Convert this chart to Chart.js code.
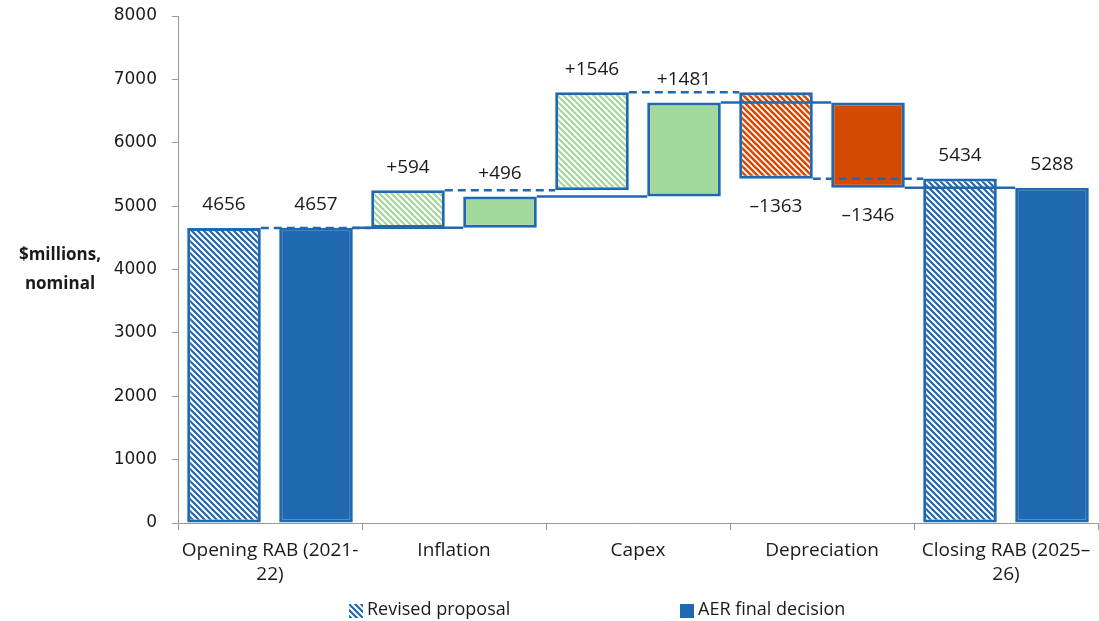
<!DOCTYPE html>
<html>
<head>
<meta charset="utf-8">
<script src="https://cdn.jsdelivr.net/npm/chart.js@4.4.1/dist/chart.umd.min.js"></script>
<style>
  html, body { margin: 0; padding: 0; background: #fff; }
  canvas { display: block; }
</style>
</head>
<body>
<canvas id="rabChart" width="1099" height="621"></canvas>
<script>
const categories = [['Opening RAB (2021-', '22)'], 'Inflation', 'Capex', 'Depreciation', ['Closing RAB (2025–', '26)']]
// opening value, the three movements, closing value
const revisedSteps = [4656, 594, 1546, -1363, 5434]
const aerSteps = [4657, 496, 1481, -1346, 5288]
const yTicks = [0, 8000, 1000]

const BLUE = '#2068B0'
const GREEN = '#A2D89B'
const RED = '#D34A02'

// turn steps into floating [from, to] ranges
function toRanges (steps) {
  const out = []
  let run = 0
  steps.forEach((v, i) => {
    if (i === 0 || i === steps.length - 1) {
      out.push([0, v])
      run = v
    } else {
      out.push([run, run + v])
      run += v
    }
  })
  return out
}
const revisedRanges = toRanges(revisedSteps)
const aerRanges = toRanges(aerSteps)

function hatch (fg, bg, size, lw) {
  const c = document.createElement('canvas')
  c.width = c.height = size
  const x = c.getContext('2d')
  x.fillStyle = bg
  x.fillRect(0, 0, size, size)
  x.strokeStyle = fg
  x.lineWidth = lw
  x.beginPath()
  for (let k = -1; k <= 1; k++) {
    x.moveTo(k * size - 1, -1)
    x.lineTo(k * size + size + 1, size + 1)
  }
  x.stroke()
  return x.createPattern(c, 'repeat')
}

const ctx = document.getElementById('rabChart').getContext('2d')
const blueHatch = hatch('#ffffff', BLUE, 6, 2)
const greenHatch = hatch(GREEN, '#ffffff', 6, 2.2)
const redHatch = hatch(RED, '#ffffff', 6, 2.6)

const fillFor = (i, hatched) => {
  if (i === 0 || i === 4) return hatched ? blueHatch : BLUE
  if (i === 3) return hatched ? redHatch : RED
  return hatched ? greenHatch : GREEN
}

function fmt (steps, i) {
  const v = steps[i]
  if (i === 0 || i === steps.length - 1) return String(v)
  return v < 0 ? '\u2013' + Math.abs(v) : '+' + v
}

const connectors = {
  id: 'connectors',
  afterDatasetsDraw (chart) {
    const c = chart.ctx
    const y = chart.scales.y
    const sets = [[0, revisedRanges, [8, 5]], [1, aerRanges, []]]
    c.save()
    c.strokeStyle = BLUE
    c.lineWidth = 2.5
    sets.forEach(([d, ranges, dash]) => {
      const bars = chart.getDatasetMeta(d).data
      c.setLineDash(dash)
      for (let i = 0; i < bars.length - 1; i++) {
        const a = bars[i]
        const b = bars[i + 1]
        const py = y.getPixelForValue(ranges[i][1])
        c.beginPath()
        c.moveTo(a.x + a.width / 2, py)
        c.lineTo(b.x - b.width / 2, py)
        c.stroke()
      }
    })
    c.restore()
  }
}

const valueLabels = {
  id: 'valueLabels',
  afterDatasetsDraw (chart) {
    const c = chart.ctx
    const y = chart.scales.y
    c.save()
    c.font = '19px "Open Sans"'
    c.fillStyle = '#1a1a1a'
    c.textAlign = 'center'
    c.textBaseline = 'middle'
    ;[[0, revisedSteps, revisedRanges], [1, aerSteps, aerRanges]].forEach(([d, steps, ranges]) => {
      chart.getDatasetMeta(d).data.forEach((bar, i) => {
        const lo = Math.min(...ranges[i])
        const hi = Math.max(...ranges[i])
        const py = steps[i] < 0 ? y.getPixelForValue(lo) + 28 : y.getPixelForValue(hi) - 23
        c.fillText(fmt(steps, i), bar.x, py)
      })
    })
    c.restore()
  }
}

const sideTitle = {
  id: 'sideTitle',
  afterDraw (chart) {
    const c = chart.ctx
    c.save()
    c.font = 'bold 17px "Open Sans"'
    c.fillStyle = '#1a1a1a'
    c.textAlign = 'center'
    c.textBaseline = 'middle'
    c.fillText('$millions,', 60, 255)
    c.fillText('nominal', 60, 284)
    c.restore()
  }
}

const bottomLegend = {
  id: 'bottomLegend',
  afterDraw (chart) {
    const c = chart.ctx
    const items = [['Revised proposal', blueHatch, 349], ['AER final decision', BLUE, 680]]
    c.save()
    c.font = '18px "Open Sans"'
    c.textBaseline = 'middle'
    items.forEach(([text, fill, x]) => {
      c.fillStyle = fill
      c.fillRect(x, 604, 14, 14)
      c.fillStyle = '#1a1a1a'
      c.fillText(text, x + 18, 610)
    })
    c.restore()
  }
}

const tickFont = { family: 'DejaVu Sans', size: 17 }

new Chart(ctx, {
  type: 'bar',
  data: {
    labels: categories,
    datasets: [
      {
        label: 'Revised proposal',
        data: revisedRanges,
        backgroundColor: revisedRanges.map((r, i) => fillFor(i, true)),
        borderColor: BLUE,
        borderWidth: 3,
        borderSkipped: false
      },
      {
        label: 'AER final decision',
        data: aerRanges,
        backgroundColor: aerRanges.map((r, i) => fillFor(i, false)),
        borderColor: BLUE,
        borderWidth: 3,
        borderSkipped: false
      }
    ]
  },
  options: {
    responsive: false,
    animation: false,
    devicePixelRatio: 1,
    categoryPercentage: 1.0,
    barPercentage: 0.8,
    layout: { padding: { top: 16, right: 1, left: 0, bottom: 0 } },
    plugins: { legend: { display: false }, tooltip: { enabled: false } },
    scales: {
      x: {
        grid: { drawOnChartArea: false, tickLength: 7, color: '#999', offset: true },
        border: { color: '#999' },
        ticks: {
          font: { family: 'Open Sans', size: 19, lineHeight: 1.3 },
          color: '#1a1a1a',
          padding: 8,
          maxRotation: 0,
          autoSkip: false
        },
        afterFit: s => { s.height = 98 }
      },
      y: {
        min: yTicks[0],
        max: yTicks[1],
        grid: { drawOnChartArea: false, tickLength: 6, color: '#999' },
        border: { color: '#999' },
        ticks: {
          stepSize: yTicks[2],
          padding: 15,
          font: tickFont,
          color: '#1a1a1a',
          callback: v => String(v)
        },
        afterFit: s => {
          s.width = 178
          s.paddingTop = 0
          s.paddingBottom = 0
        }
      }
    }
  },
  plugins: [connectors, valueLabels, sideTitle, bottomLegend]
})
</script>
</body>
</html>
